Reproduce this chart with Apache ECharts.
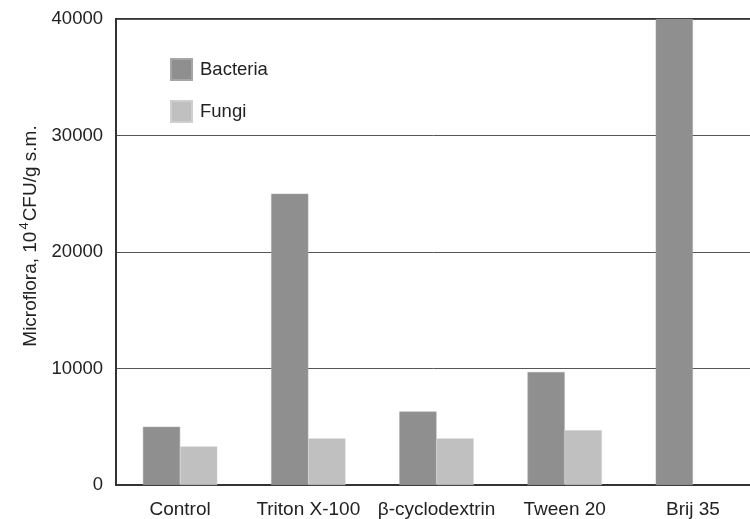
<!DOCTYPE html>
<html><head><meta charset="utf-8">
<script src="https://cdn.jsdelivr.net/npm/echarts@6/dist/echarts.min.js"></script>
<style>html,body{margin:0;padding:0;background:#fff}#c{width:750px;height:519px}</style>
</head><body><div id="c"></div>
<script>
var categories = ['Control', 'Triton X-100', 'β-cyclodextrin', 'Tween 20', 'Brij 35'];
var bacteria = [5000, 25000, 6300, 9700, 40000];
var fungi = [3300, 4000, 4000, 4700, null];
var yTicks = [0, 10000, 20000, 30000, 40000];

var chart = echarts.init(document.getElementById('c'), null, {renderer: 'canvas'});
chart.setOption({
  animation: false,
  backgroundColor: '#fff',
  textStyle: {fontFamily: 'Liberation Sans, Arial, sans-serif'},
  grid: {left: 116, width: 641, top: 19, bottom: 34, outerBoundsMode: 'none', containLabel: false,
         show: true, borderColor: '#333', borderWidth: 2, backgroundColor: 'transparent'},
  legend: {
    orient: 'vertical', left: 170, top: 58, padding: 0, itemWidth: 21, itemHeight: 21, itemGap: 19,
    icon: 'rect',
    textStyle: {fontSize: 18.5, color: '#222', padding: [0, 0, 0, 3], fontFamily: 'Liberation Sans, Arial, sans-serif'},
    data: ['Bacteria', 'Fungi']
  },
  xAxis: {
    type: 'category', data: categories,
    axisLine: {lineStyle: {color: '#333', width: 2}},
    axisTick: {show: false},
    axisLabel: {color: '#222', fontSize: 19, margin: 15, interval: 0}
  },
  yAxis: {
    type: 'value', min: yTicks[0], max: yTicks[yTicks.length - 1], interval: 10000,
    name: 'Microflora, 10{sup|4}CFU/g s.m.',
    nameLocation: 'middle', nameGap: 69, nameRotate: 90,
    nameTextStyle: {fontSize: 19, color: '#222', padding: [0, 0, 0, 32],
      rich: {sup: {fontSize: 13, verticalAlign: 'top', padding: [0, 1, 14, 2], color: '#222'}}},
    axisLine: {show: true, lineStyle: {color: '#333', width: 2}},
    axisTick: {show: false},
    axisLabel: {color: '#222', fontSize: 18.5, margin: 13, formatter: function (v) { return String(v); }},
    splitLine: {lineStyle: {color: '#555', width: 1}}
  },
  series: [
    {name: 'Bacteria', type: 'bar', data: bacteria, barGap: '0%', barCategoryGap: '42%',
     itemStyle: {color: '#8e8f8e', borderColor: '#a5a6a5', borderWidth: 0.5}},
    {name: 'Fungi', type: 'bar', data: fungi,
     itemStyle: {color: '#c0c0c0', borderColor: '#cfcfcf', borderWidth: 0.5}}
  ]
});
</script></body></html>
